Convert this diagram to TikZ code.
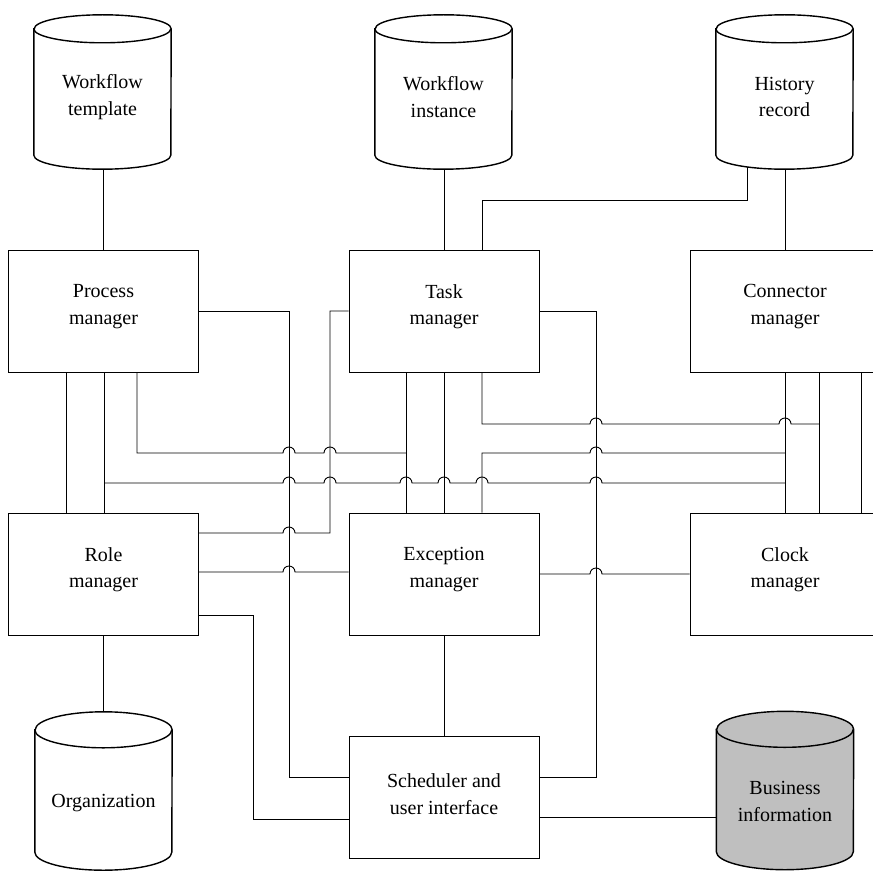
\documentclass[tikz,border=0pt]{standalone}
\usepackage{fontspec}
\setmainfont{Liberation Serif}
\usetikzlibrary{calc,backgrounds}
\newcommand{\cylshape}[3]{%
 \draw[cylline,fill=#3] ($(#1.north west)+(0,-#2)$) -- ($(#1.south west)+(0,#2)$)
   arc[start angle=180,end angle=360,x radius=68.5pt,y radius=#2pt]
   -- ($(#1.north east)+(0,-#2)$)
   arc[start angle=0,end angle=180,x radius=68.5pt,y radius=#2pt] -- cycle;
 \draw[cylline] ($(#1.north west)+(0,-#2)$) arc[start angle=180,end angle=360,x radius=68.5pt,y radius=#2pt];}
\begin{document}
\begin{tikzpicture}[x=1pt,y=1pt,
  box/.style={draw, line width=1pt, minimum width=190pt, minimum height=122pt, inner sep=0pt},
  lbl/.style={align=center, font=\fontsize{20}{26.5}\selectfont, inner sep=0pt},
  cylarea/.style={minimum width=137pt, inner sep=0pt},
  wire/.style={line width=0.9pt},
  cylline/.style={line width=1.4pt}]
\useasboundingbox (0,0) rectangle (872,-872);
% helper columns and rows
\foreach \c in {66,104,137,253,289,330,406,482,596,747,785,819,861} {\coordinate (c\c) at (\c,0);}
\foreach \r in {200,424,453,483,533,572,574,615,777,817,819} {\coordinate (r\r) at (0,-\r);}
% boxes
\node[box, label={[lbl,yshift=4.5pt]center:Process\\manager}] (P) at (103.5,-311) {};
\node[box, label={[lbl,yshift=4.5pt]center:Task\\manager}] (T) at (444,-311) {};
\node[box, label={[lbl,yshift=4.5pt]center:Connector\\manager}] (C) at (785,-311) {};
\node[box, label={[lbl,yshift=4.5pt]center:Role\\manager}] (R) at (103.5,-574) {};
\node[box, label={[lbl,yshift=4.5pt]center:Exception\\manager}] (E) at (444,-574) {};
\node[box, label={[lbl,yshift=4.5pt]center:Clock\\manager}] (K) at (785,-574) {};
\node[box, label={[lbl,yshift=3pt]center:Scheduler and\\user interface}] (S) at (444,-797) {};
% cylinders
\node[cylarea, minimum height=154pt] (wt) at (102.5,-92) {};
\node[cylarea, minimum height=154pt] (wi) at (443.5,-92) {};
\node[cylarea, minimum height=154pt] (hr) at (784.5,-92) {};
\node[cylarea, minimum height=158pt] (org) at (103.5,-791) {};
\node[cylarea, minimum height=158pt] (bi) at (785,-790.5) {};
\node[lbl] (wtl) at ($(wt.center)+(0,-5)$) {Workflow\\template};
\node[lbl] (wil) at ($(wi.center)+(0,-5)$) {Workflow\\instance};
\node[lbl] (hrl) at ($(hr.center)+(0,-5)$) {History\\record};
\node[lbl] (orgl) at ($(org.center)+(0,-12)$) {Organization};
\node[lbl] (bil) at ($(bi.center)+(0,-11)$) {Business\\information};
\begin{scope}[on background layer]
\fill[white] (0,0) rectangle (872,-872);
\cylshape{wt}{14}{white}
\cylshape{wi}{14}{white}
\cylshape{hr}{14}{white}
\cylshape{org}{18}{white}
\cylshape{bi}{18}{black!25}
\end{scope}
% connectors
\draw[wire] (P.north) -- (P.north |- wt.south);
\draw[wire] (T.north) -- (T.north |- wi.south);
\draw[wire] (c482 |- T.north) -- (c482 |- r200) -- (c747 |- r200) -- ($(c747 |- hr.south)+(0,2.5)$);
\draw[wire] (C.north) -- (C.north |- hr.south);
\draw[wire] (P.east) -- (c289 |- P.east) -- (c289 |- r777) -- (S.west |- r777);
\draw[wire] (T.west) -- (c330 |- T.west) -- (c330 |- r533) -- (295,-533)
  arc[start angle=0,end angle=180,radius=6pt] -- (R.east |- r533);
\draw[wire] (R.east |- r572) -- (283,-572) arc[start angle=180,end angle=0,radius=6pt] -- (E.west |- r572);
\draw[wire] (R.east |- r615) -- (c253 |- r615) -- (c253 |- r819) -- (S.west |- r819);
\draw[wire] (c66 |- P.south) -- (c66 |- R.north);
\draw[wire] (c104 |- P.south) -- (c104 |- R.north);
\draw[wire] (c104 |- r483) -- (283,-483) arc[start angle=180,end angle=0,radius=6pt]
  -- (324,-483) arc[start angle=180,end angle=0,radius=6pt]
  -- (400,-483) arc[start angle=180,end angle=0,radius=6pt]
  -- (438,-483) arc[start angle=180,end angle=0,radius=6pt]
  -- (476,-483) arc[start angle=180,end angle=0,radius=6pt]
  -- (590,-483) arc[start angle=180,end angle=0,radius=6pt]
  -- (c785 |- r483);
\draw[wire] (c137 |- P.south) -- (c137 |- r453) -- (283,-453) arc[start angle=180,end angle=0,radius=6pt]
  -- (324,-453) arc[start angle=180,end angle=0,radius=6pt] -- (c406 |- r453);
\draw[wire] (c406 |- T.south) -- (c406 |- E.north);
\draw[wire] (T.south) -- (E.north);
\draw[wire] (c482 |- T.south) -- (c482 |- r424) -- (590,-424) arc[start angle=180,end angle=0,radius=6pt]
  -- (779,-424) arc[start angle=180,end angle=0,radius=6pt] -- (c819 |- r424);
\draw[wire] (c482 |- E.north) -- (c482 |- r453) -- (590,-453) arc[start angle=180,end angle=0,radius=6pt] -- (c785 |- r453);
\draw[wire] (C.south) -- (K.north);
\draw[wire] (c819 |- C.south) -- (c819 |- K.north);
\draw[wire] (c861 |- C.south) -- (c861 |- K.north);
\draw[wire] (T.east) -- (c596 |- T.east) -- (c596 |- r777) -- (S.east |- r777);
\draw[wire] (E.east |- r574) -- (590,-574) arc[start angle=180,end angle=0,radius=6pt] -- (K.west |- r574);
\draw[wire] (E.south) -- (S.north);
\draw[wire] (R.south) -- (org.north);
\draw[wire] (S.east |- r817) -- (bi.west |- r817);
\end{tikzpicture}
\end{document}
